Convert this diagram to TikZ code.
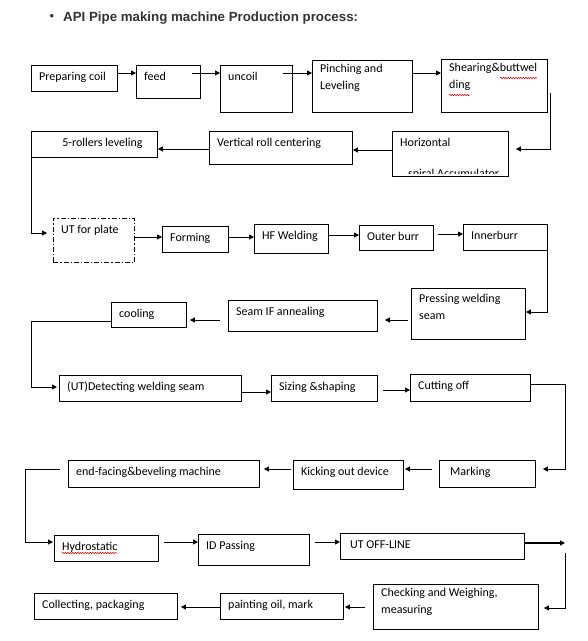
\documentclass[tikz,border=0pt]{standalone}
\usepackage{fontspec}
\setmainfont{Carlito}
\newfontfamily\arialfont{Liberation Sans}
\usepackage{xcolor}
\usetikzlibrary{arrows.meta, positioning, calc, decorations.pathmorphing}
\definecolor{titlegrey}{HTML}{333333}
\newcommand{\stagefont}{\fontsize{12}{17}\selectfont}
\tikzset{
  box/.style={draw, line width=0.9pt, inner sep=0pt, anchor=north west},
  plate/.style={box, dash pattern=on 5pt off 2pt on 1.2pt off 2pt},
  txt/.style={anchor=north west, inner sep=0pt, align=left, font=\stagefont,
              xshift=8pt, yshift=-3.5pt, execute at begin node=\strut},
  txtc/.style={txt, anchor=north, xshift=0pt},
  flow/.style={-{Triangle[length=5pt,width=5pt]}, line width=0.9pt},
  squig/.style={red!80!black, line width=0.5pt, decorate,
                decoration={snake, amplitude=0.7pt, segment length=2.5pt}},
}

\begin{document}
\begin{tikzpicture}[x=1pt, y=-1pt]
\useasboundingbox (0,0) rectangle (588,641);

% heading
\node[anchor=base, inner sep=0pt, font=\arialfont\fontsize{13}{16}\selectfont, text=titlegrey] (bullet) at (52,20) {•};
\node[anchor=base west, inner sep=0pt, text=titlegrey,
      font=\arialfont\bfseries\fontsize{13.3}{16}\selectfont] (title) at (63,21)
      {API Pipe making machine Production process:};

% row 1
\node[box, minimum width=86pt, minimum height=26pt, label={[txt]north west:Preparing coil}] (prep) at (31,65) {};
\node[box, minimum width=64pt, minimum height=33pt, label={[txt]north west:feed}] (feed) at (136,65) {};
\node[box, minimum width=72pt, minimum height=47pt, label={[txt]north west:uncoil}] (uncoil) at (220,65) {};
\node[box, minimum width=100pt, minimum height=52pt, label={[txt]north west:{Pinching and\\Leveling}}] (pinch) at (312,60) {};
\node[box, minimum width=106pt, minimum height=53pt, label={[txt]north west:{Shearing\&buttwel\\ding}}] (shear) at (441,59) {};

% row 2
\node[box, minimum width=126pt, minimum height=26pt, label={[txtc]north:5-rollers leveling}] (five) at (31,131) {};
\node[box, minimum width=143pt, minimum height=33pt, label={[txt]north west:Vertical roll centering}] (vert) at (209,131) {};
\node[box, minimum width=116pt, minimum height=45pt, label={[txt]north west:Horizontal}] (horiz) at (392,131) {};
\begin{scope}
  \clip (horiz.north west) rectangle (horiz.east |- 0,173);
  \node[txt, anchor=base west, xshift=0pt, yshift=0pt] (horiz-b) at ($(horiz.north west)+(8,43)$) {spiral Accumulator};
\end{scope}

% row 3
\node[plate, minimum width=81pt, minimum height=44pt, label={[txt]north west:UT for plate}] (utp) at (53,218) {};
\node[box, minimum width=66pt, minimum height=26pt, label={[txt]north west:Forming}] (form) at (162,226) {};
\node[box, minimum width=74pt, minimum height=29pt, label={[txt]north west:HF Welding}] (hf) at (254,224) {};
\node[box, minimum width=74pt, minimum height=25pt, label={[txt]north west:Outer burr}] (outer) at (359,225) {};
\node[box, minimum width=84pt, minimum height=26pt, label={[txt]north west:Innerburr}] (inner) at (463,224) {};

% row 4
\node[box, minimum width=114pt, minimum height=51pt, label={[txt, yshift=-2pt]north west:{Pressing welding\\seam}}] (press) at (411,288) {};
\node[box, minimum width=149pt, minimum height=31pt, label={[txt]north west:Seam IF annealing}] (seam) at (228,300) {};
\node[box, minimum width=75pt, minimum height=25pt, label={[txt]north west:cooling}] (cool) at (111,302) {};

% row 5
\node[box, minimum width=182pt, minimum height=26pt, label={[txt]north west:(UT)Detecting welding seam}] (detect) at (59,375) {};
\node[box, minimum width=106pt, minimum height=26pt, label={[txt]north west:Sizing \&shaping}] (size) at (271,375) {};
\node[box, minimum width=120pt, minimum height=27pt, label={[txt]north west:Cutting off}] (cut) at (410,374) {};

% row 6
\node[box, minimum width=96pt, minimum height=27pt, label={[txt, xshift=3pt]north west:Marking}] (mark) at (439,460) {};
\node[box, minimum width=110pt, minimum height=29pt, label={[txt]north west:Kicking out device}] (kick) at (293,460) {};
\node[box, minimum width=191pt, minimum height=27pt, label={[txt]north west:end-facing\&beveling machine}] (endf) at (68,460) {};

% row 7
\node[box, minimum width=104pt, minimum height=26pt, label={[txt]north west:Hydrostatic}] (hydro) at (54,535) {};
\node[box, minimum width=111pt, minimum height=31pt, label={[txt]north west:ID Passing}] (idp) at (198,534) {};
\node[box, minimum width=184pt, minimum height=26pt, label={[txt, xshift=2pt]north west:UT OFF-LINE}] (utoff) at (340,533) {};

% row 8
\node[box, minimum width=165pt, minimum height=45pt, label={[txt]north west:{Checking and Weighing,\\measuring}}] (check) at (373,584) {};
\node[box, minimum width=123pt, minimum height=26pt, label={[txt]north west:{painting oil, mark}}] (paint) at (220,593) {};
\node[box, minimum width=143pt, minimum height=26pt, label={[txt]north west:{Collecting, packaging}}] (coll) at (34,593) {};

% spelling marks
\draw[squig] (500,78) -- (537,78);
\draw[squig] (449,95) -- (470,95);
\draw[squig] (62,553) -- (117,553);

% connectors
\draw[flow] (prep.east |- 0,73) -- (feed.west |- 0,73);
\draw[flow] ($(feed.east |- 0,73)+(-9,0)$) -- (uncoil.west |- 0,73);
\draw[flow] ($(uncoil.east |- 0,73)+(-10,0)$) -- (pinch.west |- 0,73);
\draw[flow] (pinch.east |- 0,73) -- (shear.west |- 0,73);
\draw[flow] ($(shear.east |- 0,93)+(3,0)$) |- ($(horiz.east |- 0,149)+(7,0)$);
\draw[flow] (horiz.west |- 0,150) -- (vert.east |- 0,150);
\draw[flow] (vert.west |- 0,149) -- (five.east |- 0,149);
\draw[flow] (five.south west) |- ($(utp.west |- 0,233)+(-6,0)$);

\draw[flow] (utp.east |- 0,237) -- (form.west |- 0,237);
\draw[flow] (form.east |- 0,237) -- (hf.west |- 0,237);
\draw[flow] (hf.east |- 0,235) -- (outer.west |- 0,235);
\draw[flow] ($(outer.east |- 0,234)+(4,0)$) -- (inner.west |- 0,234);
\draw[flow] (inner.south east) |- (press.east |- 0,312);

\draw[flow] ($(press.west |- 0,320)+(-3,0)$) -- ($(seam.east |- 0,320)+(7,0)$);
\draw[flow] ($(seam.west |- 0,320)+(-8,0)$) -- ($(cool.east |- 0,320)+(3,0)$);
\draw[flow] (cool.west |- 0,321) -- (31,321) |- ($(detect.west |- 0,387)+(-2,0)$);

\draw[flow] (detect.east |- 0,392) -- (size.west |- 0,392);
\draw[flow] ($(size.east |- 0,390)+(5,0)$) -- (cut.west |- 0,390);
\draw[flow] (cut.east |- 0,384) -- (565,384) |- ($(mark.east |- 0,469)+(7,0)$);

\draw[flow] ($(mark.west |- 0,469)+(-7,0)$) -- ($(kick.east |- 0,469)+(1,0)$);
\draw[flow] ($(kick.west |- 0,469)+(-2,0)$) -- ($(endf.east |- 0,469)+(4,0)$);
\draw[flow] ($(endf.west |- 0,469)+(-8,0)$) -- (25,469) |- ($(hydro.west |- 0,542)+(-1,0)$);

\draw[flow] ($(hydro.east |- 0,542)+(5,0)$) -- (idp.west |- 0,542);
\draw[flow] ($(idp.east |- 0,542)+(5,0)$) -- (utoff.west |- 0,542);
\coordinate (turn) at (565,553);
\draw[flow, line width=1.4pt] (utoff.east |- 0,543) -- (turn |- 0,543);
\draw[flow] (turn) |- ($(check.east |- 0,608)+(5,0)$);

\draw[flow] ($(check.west |- 0,607)+(-8,0)$) -- ($(paint.east |- 0,607)+(1,0)$);
\draw[flow] (paint.west |- 0,607) -- ($(coll.east |- 0,607)+(3,0)$);
\end{tikzpicture}
\end{document}
